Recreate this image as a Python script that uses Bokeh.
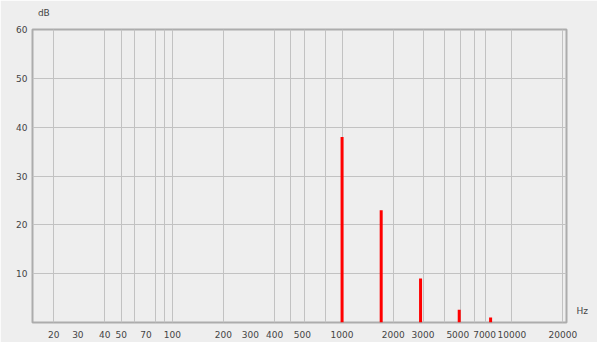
from bokeh.plotting import figure
from bokeh.models import (FixedTicker, Range1d, CustomJSTickFormatter,
                          LinearAxis, LogAxis)
from bokeh.embed import file_html
from bokeh.resources import INLINE

# Spectrum peaks (Hz) and their levels (dB)
freqs = [1000, 1700, 2900, 4900, 7500]
levels = [38, 23, 9, 2.6, 1]

x_tick_labels = [20, 30, 40, 50, 70, 100, 200, 300, 400, 500,
                 1000, 2000, 3000, 5000, 7000, 10000, 20000]
x_grid_lines = [20, 40, 50, 60, 80, 90, 100, 200, 400, 500, 600, 800,
                1000, 2000, 3000, 4000, 5000, 6000, 7000, 10000, 20000]
y_ticks = [10, 20, 30, 40, 50, 60]

FONT = "DejaVu Sans"
FONT_SIZE = "9px"
BG = "#eeeeee"
GRID = "#c2c2c2"
TEXT = "#444444"

p = figure(width=597, height=342, x_axis_type="log",
           x_range=Range1d(15, 21000), y_range=Range1d(0, 60),
           output_backend="svg", toolbar_location=None,
           min_border_left=32, min_border_right=31,
           min_border_top=29, min_border_bottom=20)

p.background_fill_color = BG
p.border_fill_color = BG
p.outline_line_color = "#acacac"
p.outline_line_width = 2

# "dB" unit caption just above the top-left corner of the frame
db_axis = LogAxis(ticker=FixedTicker(ticks=[17.5]),
                  formatter=CustomJSTickFormatter(code='return "dB";'))
p.add_layout(db_axis, "above")

# "Hz" unit caption at the right end of the frequency axis
hz_axis = LinearAxis(ticker=FixedTicker(ticks=[2.4]),
                     formatter=CustomJSTickFormatter(code='return "Hz";'))
p.add_layout(hz_axis, "right")

x_axis = p.below[0]
y_axis = p.left[0]


def plain(ax):
    ax.axis_line_color = None
    ax.major_tick_line_color = None
    ax.minor_tick_line_color = None
    ax.major_tick_out = 0
    ax.major_tick_in = 0
    ax.minor_tick_out = 0
    ax.minor_tick_in = 0
    ax.major_label_text_font = FONT
    ax.major_label_text_font_size = FONT_SIZE
    ax.major_label_text_color = TEXT


for ax in (x_axis, y_axis, hz_axis, db_axis):
    plain(ax)
hz_axis.major_label_standoff = 10
db_axis.major_label_standoff = 12

# a little breathing room keeps the crowded frequency labels apart
x_axis.ticker = FixedTicker(ticks=x_tick_labels)
x_axis.formatter = CustomJSTickFormatter(code="""
    const fs = "\\u2007", ts = "\\u2009";
    if (tick == 30) return "30" + fs + fs;
    if (tick == 300) return "300" + fs;
    if (tick == 500) return fs + fs + fs + fs + "500";
    if (tick == 5000) return "5000" + fs;
    if (tick == 7000) return "7000" + ts;
    return String(tick);
""")
x_axis.major_label_standoff = 7
y_axis.ticker = FixedTicker(ticks=y_ticks)
y_axis.major_label_standoff = 5

p.xgrid.ticker = FixedTicker(ticks=x_grid_lines)
p.xgrid.grid_line_color = GRID
p.xgrid.grid_line_width = 1
p.ygrid.ticker = FixedTicker(ticks=y_ticks)
p.ygrid.grid_line_color = GRID
p.ygrid.grid_line_width = 1

# spectral lines
p.segment(x0=freqs, y0=[0] * len(freqs), x1=freqs, y1=levels,
          line_color="#ff0000", line_width=3, line_cap="butt")

open("out.html", "w").write(file_html(p, INLINE))
